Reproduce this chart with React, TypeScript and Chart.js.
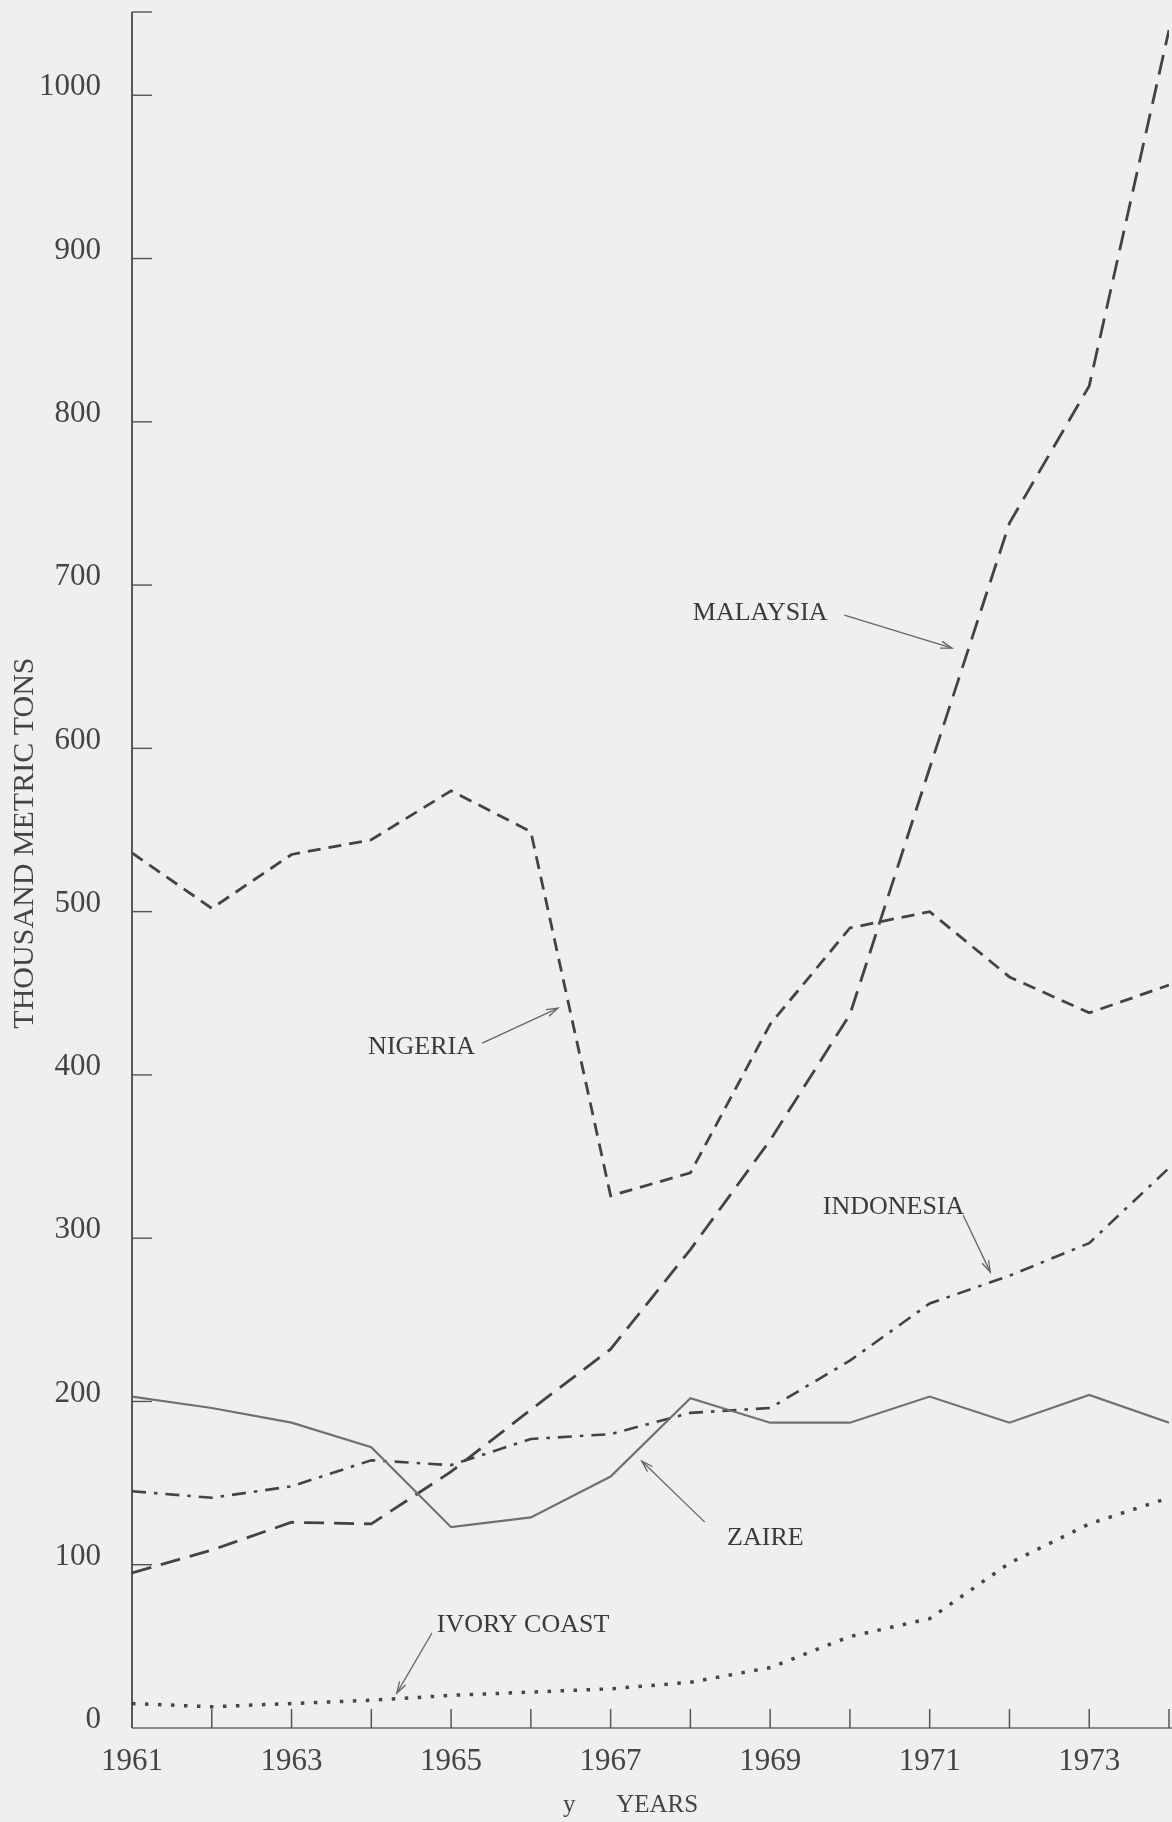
import React, { useEffect, useRef } from 'react';
import { Chart, registerables } from 'chart.js';

Chart.register(...registerables);

// ---- data (thousand metric tons) ----
const YEARS = [1961, 1962, 1963, 1964, 1965, 1966, 1967, 1968, 1969, 1970, 1971, 1972, 1973, 1974];
const MALAYSIA = [95, 109, 126, 125, 157, 195, 232, 293, 360, 437, 588, 738, 822, 1040];
const NIGERIA = [536, 502, 535, 544, 574, 549, 326, 340, 431, 490, 500, 460, 438, 455];
const INDONESIA = [145, 141, 148, 164, 161, 177, 180, 193, 196, 225, 260, 277, 297, 343];
const ZAIRE = [203, 196, 187, 172, 123, 129, 154, 202, 187, 187, 203, 187, 204, 187];
const IVORY_COAST = [15, 13, 15, 17, 20, 22, 24, 28, 37, 56, 67, 101, 125, 141];

const Y_TICKS = [0, 100, 200, 300, 400, 500, 600, 700, 800, 900, 1000];
const X_TICK_LABELS = [1961, 1963, 1965, 1967, 1969, 1971, 1973];
const Y_MAX = 1051;

const Y_TITLE = 'THOUSAND METRIC TONS';
const X_TITLE_PREFIX = 'y';
const X_TITLE = 'YEARS';

// annotation labels, in data units (year, value)
const ANNOTATIONS = [
  { text: 'MALAYSIA', at: [1968.03, 682.8], from: [1969.93, 681.6], to: [1971.28, 661.4] },
  { text: 'NIGERIA', at: [1963.96, 417], from: [1965.39, 419.5], to: [1966.34, 440.9] },
  { text: 'INDONESIA', at: [1969.66, 319], from: [1971.42, 314.1], to: [1971.76, 279.2] },
  { text: 'ZAIRE', at: [1968.46, 116.3], from: [1968.18, 126.1], to: [1967.39, 163.5] },
  { text: 'IVORY COAST', at: [1964.82, 63.1], from: [1964.76, 58.2], to: [1964.32, 21.4] },
];

const BG = '#efefef';
const INK = '#434343';
const SERIF = '"Liberation Serif", "DejaVu Serif", serif';

function pts(values: number[]) {
  return YEARS.map((yr, i) => ({ x: yr, y: values[i] }));
}

const decorPlugin = {
  id: 'decor',
  beforeDraw(chart: any) {
    const ctx = chart.ctx;
    ctx.save();
    ctx.fillStyle = BG;
    ctx.fillRect(0, 0, chart.width, chart.height);
    ctx.restore();
  },
  beforeDatasetsDraw(chart: any) {
    const ctx = chart.ctx;
    const xs = chart.scales.x;
    const ys = chart.scales.y;
    const left = xs.getPixelForValue(YEARS[0]);
    const bottom = ys.getPixelForValue(0);
    const top = ys.getPixelForValue(Y_MAX);
    ctx.save();
    // y axis
    ctx.strokeStyle = '#333';
    ctx.lineWidth = 1.6;
    ctx.beginPath();
    ctx.moveTo(left, top);
    ctx.lineTo(left, bottom);
    ctx.stroke();
    // y ticks (inward)
    ctx.lineWidth = 1.4;
    ctx.strokeStyle = '#555';
    const yt = Y_TICKS.filter((v) => v > 0).concat([Y_MAX]);
    yt.forEach((v) => {
      const p = ys.getPixelForValue(v);
      ctx.beginPath();
      ctx.moveTo(left, p);
      ctx.lineTo(left + 20, p);
      ctx.stroke();
    });
    // x axis
    ctx.strokeStyle = '#6a6a6a';
    ctx.lineWidth = 1.5;
    ctx.beginPath();
    ctx.moveTo(left, bottom);
    ctx.lineTo(chart.width, bottom);
    ctx.stroke();
    // x ticks (inward)
    ctx.strokeStyle = '#555';
    YEARS.slice(1).forEach((yr) => {
      const p = xs.getPixelForValue(yr);
      ctx.beginPath();
      ctx.moveTo(p, bottom);
      ctx.lineTo(p, bottom - 19);
      ctx.stroke();
    });
    ctx.restore();
  },
  afterDraw(chart: any) {
    const ctx = chart.ctx;
    const xs = chart.scales.x;
    const ys = chart.scales.y;
    ctx.save();
    // y title
    ctx.fillStyle = '#444';
    ctx.font = '30px ' + SERIF;
    ctx.textAlign = 'center';
    ctx.textBaseline = 'middle';
    ctx.translate(25, ys.getPixelForValue(542));
    ctx.rotate(-Math.PI / 2);
    ctx.fillText(Y_TITLE, 0, 0);
    ctx.restore();

    ctx.save();
    // x title
    ctx.fillStyle = '#444';
    ctx.font = '25px ' + SERIF;
    ctx.textBaseline = 'middle';
    ctx.textAlign = 'center';
    const ty = ys.getPixelForValue(0) + 77;
    ctx.fillText(X_TITLE_PREFIX, xs.getPixelForValue(1966.48), ty);
    ctx.textAlign = 'left';
    ctx.fillText(X_TITLE, xs.getPixelForValue(1967.07), ty);
    ctx.restore();

    // annotations
    ctx.save();
    ctx.font = '26px ' + SERIF;
    ctx.textAlign = 'left';
    ctx.textBaseline = 'middle';
    ANNOTATIONS.forEach((a) => {
      ctx.fillStyle = '#3a3a3a';
      ctx.fillText(a.text, xs.getPixelForValue(a.at[0]), ys.getPixelForValue(a.at[1]));
      const x1 = xs.getPixelForValue(a.from[0]);
      const y1 = ys.getPixelForValue(a.from[1]);
      const x2 = xs.getPixelForValue(a.to[0]);
      const y2 = ys.getPixelForValue(a.to[1]);
      ctx.strokeStyle = '#666';
      ctx.lineWidth = 1.3;
      ctx.beginPath();
      ctx.moveTo(x1, y1);
      ctx.lineTo(x2, y2);
      ctx.stroke();
      const ang = Math.atan2(y2 - y1, x2 - x1);
      const L = 12;
      const w = 0.3;
      ctx.beginPath();
      ctx.moveTo(x2 - L * Math.cos(ang - w), y2 - L * Math.sin(ang - w));
      ctx.lineTo(x2, y2);
      ctx.lineTo(x2 - L * Math.cos(ang + w), y2 - L * Math.sin(ang + w));
      ctx.stroke();
    });
    ctx.restore();
  },
};

export default function App() {
  const ref = useRef<HTMLCanvasElement | null>(null);

  useEffect(() => {
    if (!ref.current) return;
    const common = { pointRadius: 0, fill: false, tension: 0, borderCapStyle: 'butt' as const };
    const chart = new Chart(ref.current, {
      type: 'line',
      data: {
        datasets: [
          { label: 'Ivory Coast', data: pts(IVORY_COAST), borderColor: '#454545', borderWidth: 3.5, borderDash: [3.5, 9.5], ...common },
          { label: 'Zaire', data: pts(ZAIRE), borderColor: '#707070', borderWidth: 2.2, ...common },
          { label: 'Indonesia', data: pts(INDONESIA), borderColor: INK, borderWidth: 2.6, borderDash: [14, 8, 3.5, 8], ...common },
          { label: 'Nigeria', data: pts(NIGERIA), borderColor: INK, borderWidth: 2.8, borderDash: [13, 8], ...common },
          { label: 'Malaysia', data: pts(MALAYSIA), borderColor: INK, borderWidth: 2.8, borderDash: [20, 10], ...common },
        ],
      },
      options: {
        animation: false,
        responsive: false,
        maintainAspectRatio: false,
        layout: { padding: { left: 0, right: 3, top: 12, bottom: 0 } },
        plugins: { legend: { display: false }, tooltip: { enabled: false } },
        scales: {
          x: {
            type: 'linear',
            min: YEARS[0],
            max: YEARS[YEARS.length - 1],
            afterFit: (s: any) => { s.height = 94; s.paddingLeft = 0; s.paddingRight = 0; },
            grid: { display: false, drawTicks: false },
            border: { display: false },
            ticks: {
              stepSize: 1,
              autoSkip: false,
              maxRotation: 0,
              padding: 15,
              color: '#444',
              font: { family: SERIF, size: 31 },
              callback: (v: any) => (X_TICK_LABELS.includes(Number(v)) ? String(v) : ''),
            },
          },
          y: {
            type: 'linear',
            min: 0,
            max: Y_MAX,
            afterFit: (s: any) => { s.width = 132; s.paddingTop = 0; s.paddingBottom = 0; },
            grid: { display: false, drawTicks: false },
            border: { display: false },
            ticks: {
              stepSize: 100,
              includeBounds: false,
              padding: 31,
              labelOffset: -8,
              color: '#444',
              font: { family: SERIF, size: 31 },
              callback: (v: any) => (Y_TICKS.includes(Number(v)) ? String(v) : ''),
            },
          },
        },
      },
      plugins: [decorPlugin],
    } as any);
    return () => chart.destroy();
  }, []);

  return (
    <div style={{ position: 'absolute', left: 0, top: 0, width: 1172, height: 1822, background: BG }}>
      <canvas ref={ref} width={1172} height={1822} style={{ display: 'block', width: 1172, height: 1822 }} />
    </div>
  );
}
